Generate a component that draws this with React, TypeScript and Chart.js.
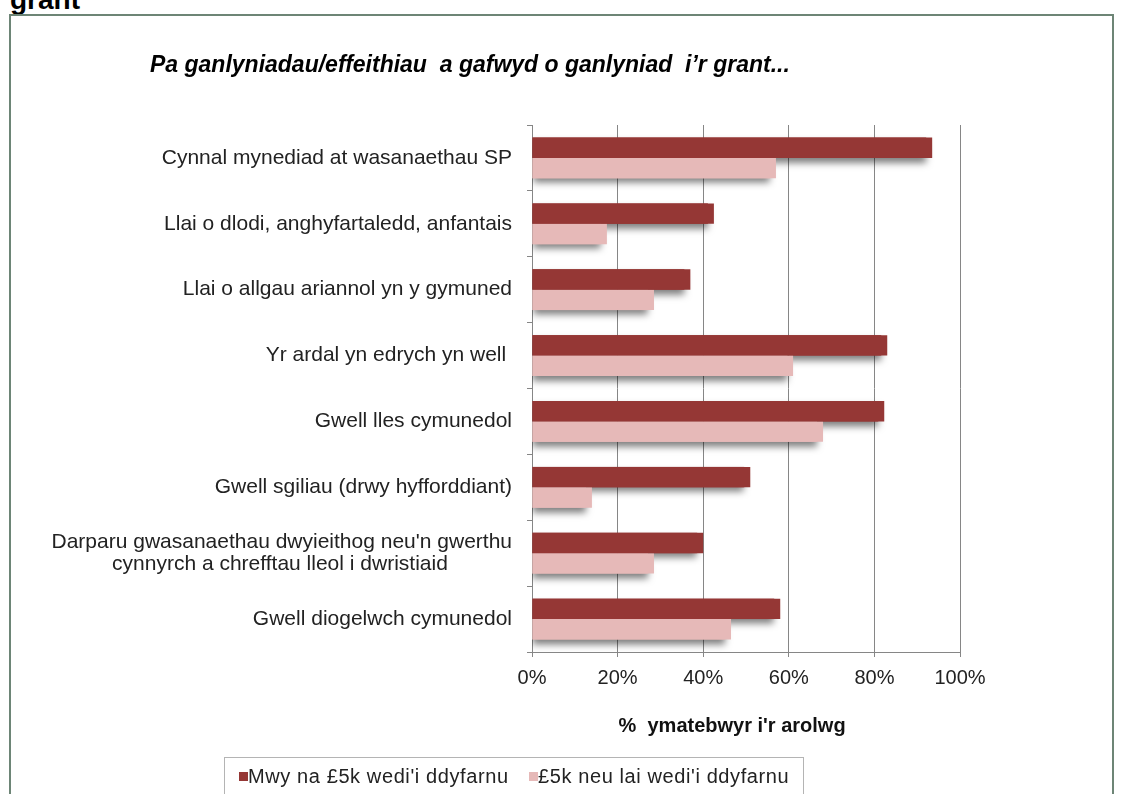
import React, { useEffect, useRef } from "react";
import { Chart, registerables } from "chart.js";

Chart.register(...registerables);

const FONT = '"Liberation Sans", Arial, sans-serif';

const categories: (string | string[])[] = [
  "Cynnal mynediad at wasanaethau SP",
  "Llai o dlodi, anghyfartaledd, anfantais",
  "Llai o allgau ariannol yn y gymuned",
  "Yr ardal yn edrych yn well ",
  "Gwell lles cymunedol",
  "Gwell sgiliau (drwy hyfforddiant)",
  [
    "Darparu gwasanaethau dwyieithog neu'n gwerthu",
    "cynnyrch a chrefftau lleol i dwristiaid           ",
  ],
  "Gwell diogelwch cymunedol",
];

const over5kValues = [93.5, 42.5, 37, 83, 82.3, 51, 40, 58];
const under5kValues = [57, 17.5, 28.5, 61, 68, 14, 28.5, 46.5];

const xTicks = [0, 20, 40, 60, 80, 100];

const seriesNames = ["Mwy na £5k wedi'i ddyfarnu", "£5k neu lai wedi'i ddyfarnu"];
const seriesColors = ["#953735", "#e6b9b8"];

const chartTitle = "Pa ganlyniadau/effeithiau  a gafwyd o ganlyniad  i\u2019r grant...";
const xAxisTitle = "%  ymatebwyr i'r arolwg     ";
const pageHeading = "grant";

const barShadow = {
  id: "barShadow",
  beforeDatasetsDraw(chart: any) {
    const ctx = chart.ctx as CanvasRenderingContext2D;
    const area = chart.chartArea;
    ctx.save();
    ctx.beginPath();
    ctx.rect(area.left, area.top, area.right - area.left + 20, area.bottom - area.top);
    ctx.clip();
    chart.data.datasets.forEach((ds: any, i: number) => {
      const meta = chart.getDatasetMeta(i);
      meta.data.forEach((el: any) => {
        const { x, y, base, height } = el.getProps(["x", "y", "base", "height"], true);
        ctx.save();
        ctx.shadowColor = "rgba(0,0,0,0.5)";
        ctx.shadowBlur = 7;
        ctx.shadowOffsetX = 0;
        ctx.shadowOffsetY = 5;
        ctx.fillStyle = ds.backgroundColor;
        ctx.fillRect(base, y - height / 2, Math.max(0, x - base - 6), height);
        ctx.restore();
      });
    });
    ctx.restore();
  },
};

function BarChart() {
  const ref = useRef<HTMLCanvasElement | null>(null);
  useEffect(() => {
    if (!ref.current) return;
    const chart = new Chart(ref.current, {
      type: "bar",
      data: {
        labels: categories,
        datasets: [
          {
            label: seriesNames[0],
            data: over5kValues,
            backgroundColor: seriesColors[0],
            borderWidth: 0,
            categoryPercentage: 0.62,
            barPercentage: 1,
          },
          {
            label: seriesNames[1],
            data: under5kValues,
            backgroundColor: seriesColors[1],
            borderWidth: 0,
            categoryPercentage: 0.62,
            barPercentage: 1,
          },
        ],
      },
      options: {
        indexAxis: "y",
        responsive: false,
        animation: false,
        layout: { padding: { top: 125, right: 163, bottom: 56, left: 0 } },
        plugins: {
          legend: { display: false },
          tooltip: { enabled: false },
          title: { display: false },
        },
        scales: {
          x: {
            min: 0,
            max: 100,
            afterBuildTicks: (scale: any) => {
              scale.ticks = xTicks.map((v) => ({ value: v }));
            },
            afterFit: (scale: any) => {
              scale.height = 86;
            },
            ticks: {
              callback: (v: any) => v + "%",
              font: { family: FONT, size: 20 },
              color: "#222",
              padding: 9,
              maxRotation: 0,
            },
            grid: { color: "#868686", lineWidth: 1, tickLength: 5, drawTicks: true },
            border: { color: "#868686", width: 1 },
            title: {
              display: true,
              text: xAxisTitle,
              font: { family: FONT, size: 20, weight: "bold" },
              color: "#111",
              padding: 0,
            },
          },
          y: {
            afterFit: (scale: any) => {
              scale.width = 532;
            },
            ticks: {
              font: { family: FONT, size: 21, lineHeight: 1.08 },
              color: "#222",
              padding: 15,
              autoSkip: false,
            },
            grid: { drawOnChartArea: false, tickLength: 5, color: "#868686", offset: true },
            border: { color: "#868686", width: 1 },
          },
        },
      } as any,
      plugins: [barShadow],
    });
    return () => chart.destroy();
  }, []);
  return (
    <canvas
      ref={ref}
      width={1123}
      height={794}
      style={{ position: "absolute", left: 0, top: 0, width: 1123, height: 794 }}
    />
  );
}

export default function App() {
  return (
    <div
      style={{
        position: "absolute",
        left: 0,
        top: 0,
        width: 1123,
        height: 794,
        overflow: "hidden",
        background: "#fff",
        fontFamily: FONT,
      }}
    >
      <div
        style={{
          position: "absolute",
          left: 10,
          top: -14,
          fontSize: 28,
          lineHeight: "28px",
          fontWeight: "bold",
          color: "#000",
          whiteSpace: "nowrap",
        }}
      >
        {pageHeading}
      </div>
      <div
        style={{
          position: "absolute",
          left: 9,
          top: 14,
          width: 1105,
          height: 800,
          border: "2px solid #6d8576",
          boxSizing: "border-box",
        }}
      />
      <BarChart />
      <div
        style={{
          position: "absolute",
          left: 150,
          top: 51,
          fontSize: 23,
          lineHeight: "27px",
          fontWeight: "bold",
          fontStyle: "italic",
          color: "#000",
          whiteSpace: "pre",
        }}
      >
        {chartTitle}
      </div>
      <div
        style={{
          position: "absolute",
          left: 224,
          top: 757,
          width: 580,
          height: 60,
          border: "1px solid #b4b4b4",
          boxSizing: "border-box",
          background: "transparent",
        }}
      />
      {seriesNames.map((name, i) => (
        <React.Fragment key={name}>
          <div
            style={{
              position: "absolute",
              left: i === 0 ? 239 : 529,
              top: 772,
              width: 9,
              height: 9,
              background: seriesColors[i],
            }}
          />
          <div
            style={{
              position: "absolute",
              left: i === 0 ? 248 : 538,
              top: 765,
              fontSize: 20,
              lineHeight: "22px",
              letterSpacing: "0.6px",
              color: "#222",
              whiteSpace: "nowrap",
            }}
          >
            {name}
          </div>
        </React.Fragment>
      ))}
    </div>
  );
}
